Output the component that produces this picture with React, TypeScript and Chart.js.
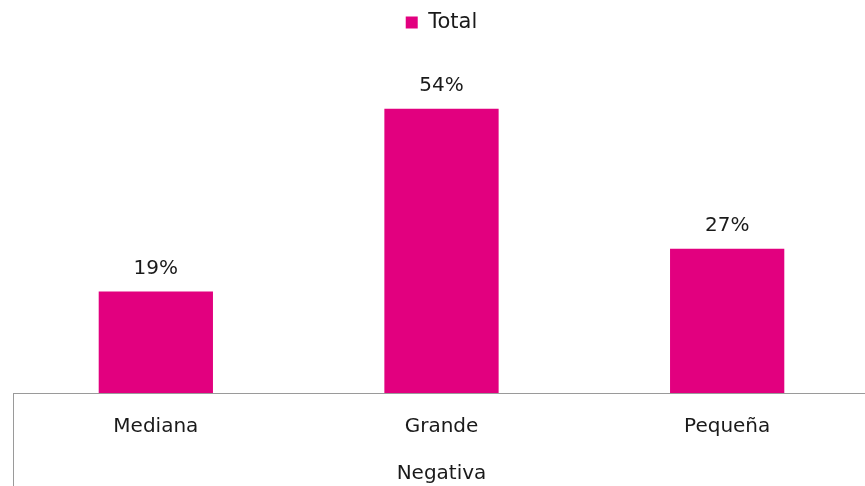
import React, { useEffect, useRef } from "react";
import { Chart, registerables } from "chart.js";

Chart.register(...registerables);

const categories = ["Mediana", "Grande", "Pequeña"];
const groupLabel = "Negativa";
const seriesName = "Total";
const values = [19.3, 54, 27.4];

const BAR_COLOR = "#E2007F";
const TEXT_COLOR = "#1a1a1a";
const AXIS_COLOR = "#9a9a9a";
const FONT = "'DejaVu Sans', Verdana, sans-serif";

const valueLabels = {
  id: "valueLabels",
  afterDatasetsDraw(chart: any) {
    const ctx = chart.ctx;
    ctx.save();
    ctx.font = `20px ${FONT}`;
    ctx.fillStyle = TEXT_COLOR;
    ctx.textAlign = "center";
    ctx.textBaseline = "bottom";
    chart.data.datasets.forEach((ds: any, di: number) => {
      const meta = chart.getDatasetMeta(di);
      meta.data.forEach((el: any, i: number) => {
        ctx.fillText(`${Math.round(ds.data[i])}%`, el.x, el.y - 13);
      });
    });
    ctx.restore();
  },
};

const groupDivider = {
  id: "groupDivider",
  afterDraw(chart: any) {
    const s = chart.scales.x;
    const ctx = chart.ctx;
    ctx.save();
    ctx.strokeStyle = AXIS_COLOR;
    ctx.lineWidth = 1;
    ctx.beginPath();
    ctx.moveTo(s.left + 0.5, s.top);
    ctx.lineTo(s.left + 0.5, chart.height);
    ctx.stroke();
    ctx.restore();
  },
};

export default function App() {
  const ref = useRef<HTMLCanvasElement | null>(null);
  useEffect(() => {
    if (!ref.current) return;
    const chart = new Chart(ref.current, {
      type: "bar",
      data: {
        labels: categories,
        datasets: [
          {
            label: seriesName,
            data: values,
            backgroundColor: BAR_COLOR,
            categoryPercentage: 0.4,
            barPercentage: 1,
          },
        ],
      },
      options: {
        animation: false,
        responsive: false,
        layout: { padding: { left: 13, right: 0, top: 0, bottom: 0 } },
        plugins: {
          legend: {
            position: "top",
            labels: {
              boxWidth: 12,
              boxHeight: 12,
              color: TEXT_COLOR,
              font: { family: FONT, size: 21 },
              padding: 12,
            },
          },
          tooltip: { enabled: false },
        },
        scales: {
          x: {
            grid: { display: false, drawTicks: false },
            border: { display: true, color: AXIS_COLOR, width: 1 },
            ticks: {
              color: TEXT_COLOR,
              font: { family: FONT, size: 20 },
              padding: 22,
              maxRotation: 0,
              autoSkip: false,
            },
            title: {
              display: true,
              text: groupLabel,
              color: TEXT_COLOR,
              font: { family: FONT, size: 20 },
              padding: { top: 1, bottom: 0 },
            },
          },
          y: {
            display: false,
            min: 0,
            max: 66.5,
          },
        },
      },
      plugins: [valueLabels, groupDivider],
    });
    return () => chart.destroy();
  }, []);
  return (
    <div style={{ position: "fixed", left: 0, top: 0, width: 865, height: 486, overflow: "hidden", background: "#fff" }}>
      <canvas ref={ref} width={870} height={486} style={{ display: "block" }} />
    </div>
  );
}
